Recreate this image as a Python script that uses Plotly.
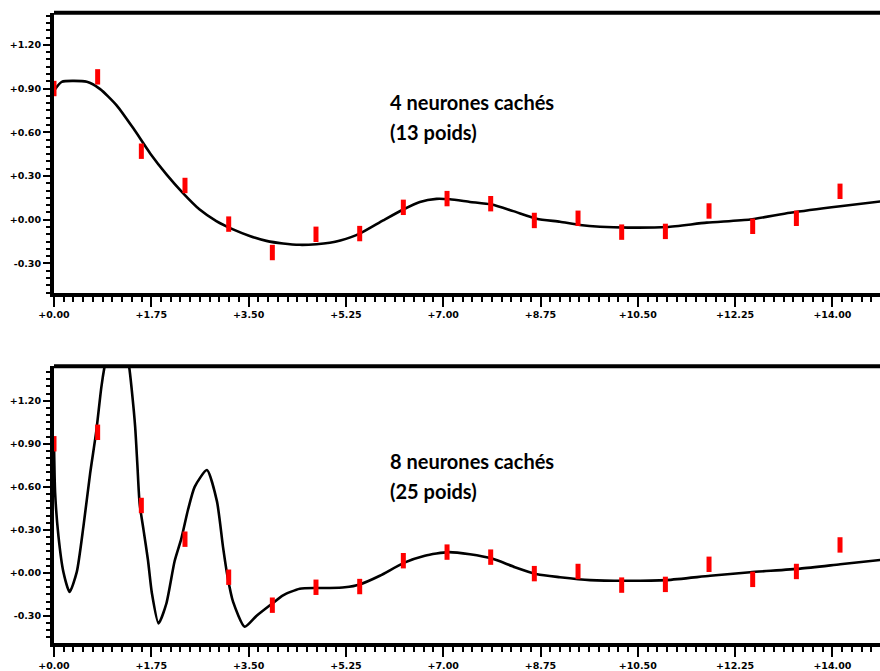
import plotly.graph_objects as go

# ---- training points (same set in both panels) ----
pts_x = [0.0, 0.785, 1.571, 2.356, 3.142, 3.927, 4.712, 5.498, 6.283, 7.069,
         7.854, 8.639, 9.425, 10.210, 10.996, 11.781, 12.566, 13.352, 14.137]
pts_y = [0.90, 0.98, 0.47, 0.235, -0.03, -0.225, -0.10, -0.095, 0.085, 0.145,
         0.11, -0.005, 0.01, -0.085, -0.08, 0.06, -0.045, 0.01, 0.195]

# ---- network output, 4 hidden neurons ----
c4_x = [0.0, 0.14, 0.59, 0.83, 1.13, 1.43, 1.73, 2.03, 2.32, 2.62, 2.92, 3.22,
        3.52, 3.82, 4.12, 4.42, 4.72, 4.96, 5.15, 5.50, 5.92, 6.28, 6.58, 6.88,
        7.12, 7.48, 7.87, 8.26, 8.68, 9.10, 9.46, 9.82, 10.33, 11.02, 11.74,
        12.52, 13.24, 14.14, 14.86]
c4_y = [0.885, 0.946, 0.946, 0.896, 0.783, 0.625, 0.455, 0.308, 0.183, 0.070,
        -0.009, -0.066, -0.111, -0.145, -0.163, -0.172, -0.168, -0.158, -0.142,
        -0.095, -0.005, 0.070, 0.122, 0.143, 0.140, 0.122, 0.104, 0.059, 0.007,
        -0.014, -0.036, -0.048, -0.054, -0.050, -0.020, 0.002, 0.048, 0.093, 0.125]

# ---- network output, 8 hidden neurons ----
c8_x = [0.0, 0.02, 0.08, 0.17, 0.28, 0.41, 0.53, 0.65, 0.76, 0.85, 0.91, 1.13,
        1.35, 1.40, 1.46, 1.50, 1.54, 1.61, 1.69, 1.76, 1.88, 2.02, 2.17, 2.29,
        2.41, 2.53, 2.75, 2.93, 3.04, 3.12, 3.22, 3.43, 3.64, 3.91, 4.12, 4.42,
        4.72, 4.96, 5.23, 5.50, 5.86, 6.29, 6.67, 7.09, 7.48, 7.88, 8.29, 8.69,
        9.10, 9.64, 10.27, 11.02, 11.80, 12.52, 13.42, 14.14, 14.86]
c8_y = [0.91, 0.56, 0.257, 0.005, -0.133, 0.007, 0.326, 0.694, 0.986, 1.29,
        1.44, 1.85, 1.44, 1.27, 1.016, 0.75, 0.483, 0.30, 0.09, -0.14, -0.352,
        -0.215, 0.083, 0.239, 0.44, 0.60, 0.717, 0.50, 0.18, -0.023, -0.20,
        -0.375, -0.30, -0.218, -0.156, -0.110, -0.105, -0.105, -0.10, -0.08,
        -0.02, 0.07, 0.12, 0.145, 0.13, 0.10, 0.04, -0.01, -0.03, -0.05,
        -0.055, -0.05, -0.02, 0.005, 0.03, 0.06, 0.09]

# ---- axis ticks ----
x_ticks = [0.0, 1.75, 3.5, 5.25, 7.0, 8.75, 10.5, 12.25, 14.0]
x_labels = ["+0.00", "+1.75", "+3.50", "+5.25", "+7.00", "+8.75", "+10.50", "+12.25", "+14.00"]
y_ticks = [1.2, 0.9, 0.6, 0.3, 0.0, -0.3]
y_labels = ["+1.20", "+0.90", "+0.60", "+0.30", "+0.00", "-0.30"]
x_minor_step = 0.175
y_minor_step = 0.05

x_minor = [round(i * x_minor_step, 4) for i in range(0, 86)]
y_minor = [round(-0.5 + i * y_minor_step, 4) for i in range(0, 40)]

labels_top = ["4 neurones cachés", "(13 poids)"]
labels_bot = ["8 neurones cachés", "(25 poids)"]

fig = go.Figure()

for xa, ya, cx, cy in [("x", "y", c4_x, c4_y), ("x2", "y2", c8_x, c8_y)]:
    fig.add_trace(go.Scatter(x=cx, y=cy, mode="lines", xaxis=xa, yaxis=ya,
                             line=dict(color="black", width=2.6, shape="spline", smoothing=0.6),
                             showlegend=False, hoverinfo="skip"))
    fig.add_trace(go.Scatter(x=pts_x, y=pts_y, mode="markers", xaxis=xa, yaxis=ya,
                             marker=dict(symbol="line-ns", size=11,
                                         line=dict(color="#ff0000", width=5)),
                             showlegend=False, cliponaxis=False))

tickfont = dict(family="DejaVu Sans", size=9.5, color="black", weight="bold")

xcommon = dict(range=[0, 14.856], tickmode="array", tickvals=x_ticks, ticktext=x_labels,
               showline=True, linewidth=4, linecolor="black", ticks="outside",
               ticklen=10, tickwidth=1.5, tickcolor="black", showgrid=False, zeroline=False,
               tickfont=tickfont,
               minor=dict(tickmode="array", tickvals=x_minor, ticks="outside",
                          ticklen=5, tickwidth=1.5, tickcolor="black", showgrid=False))
ycommon = dict(tickmode="array", tickvals=y_ticks, ticktext=y_labels,
               showline=True, linewidth=4, linecolor="black", ticks="outside",
               ticklen=7, tickwidth=1.5, tickcolor="black", showgrid=False, zeroline=False,
               tickfont=tickfont,
               minor=dict(tickmode="array", tickvals=y_minor, ticks="outside",
                          ticklen=4, tickwidth=1.5, tickcolor="black", showgrid=False))

fig.update_layout(
    width=880, height=671,
    margin=dict(l=54, r=0, t=0, b=0),
    paper_bgcolor="white", plot_bgcolor="white",
    xaxis=dict(anchor="y", domain=[0, 1], **xcommon),
    yaxis=dict(anchor="x", domain=[1 - 296 / 671, 1 - 13 / 671], range=[-0.502, 1.419], **ycommon),
    xaxis2=dict(anchor="y2", domain=[0, 1], **xcommon),
    yaxis2=dict(anchor="x2", domain=[1 - 650 / 671, 1 - 370 / 671], range=[-0.49, 1.441], **ycommon),
)

# top border of each frame
for xr, yr in [("x domain", "y domain"), ("x2 domain", "y2 domain")]:
    fig.add_shape(type="line", xref=xr, yref=yr, x0=0, x1=1, y0=1, y1=1,
                  line=dict(color="black", width=4))

afont = dict(family="Lato", size=20, color="black", weight="bold")
for (xa, ya), texts, ys in [(("x", "y"), labels_top, [0.808, 0.604]),
                            (("x2", "y2"), labels_bot, [0.779, 0.572])]:
    for t, yy in zip(texts, ys):
        fig.add_annotation(x=6.0, y=yy, xref=xa, yref=ya, text=t, showarrow=False,
                           xanchor="left", yanchor="middle", font=afont)

fig.write_html("out.html")
